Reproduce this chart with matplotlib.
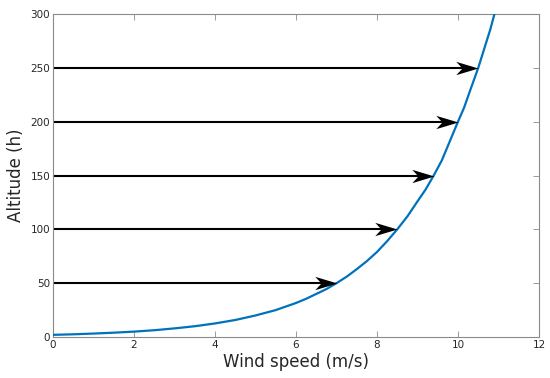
import matplotlib
matplotlib.use("Agg")
import matplotlib.pyplot as plt
from matplotlib.path import Path


# curve
speed = [0, 0.5, 1, 1.5, 2, 2.5, 3, 3.5, 4, 4.5, 5, 5.5, 6, 6.25, 6.5, 6.75,
         7, 7.25, 7.5, 7.75, 8, 8.25, 8.5, 8.75, 9, 9.2, 9.4, 9.6, 9.8,
         10, 10.15, 10.3, 10.5, 10.65, 10.8, 10.9]
altitude = [2.0, 2.5, 3.2, 4.0, 5.0, 6.3, 8.0, 10.0, 12.6, 15.8, 20, 25, 31.6, 35.5, 40, 44.5,
            50, 56, 63, 70.5, 79, 89, 100, 112, 126, 137, 150, 164, 182,
            200, 213, 229, 250, 268, 286, 300]

# arrows: from x = 0 to the curve
arrow_alt = [50, 100, 150, 200, 250]
arrow_speed = [7.0, 8.5, 9.4, 10.0, 10.5]

x_ticks = [0, 2, 4, 6, 8, 10, 12]
y_ticks = [0, 50, 100, 150, 200, 250, 300]


# arrowhead with concave back, tip at origin
head = Path(
    [(0, 0), (-1, 0.3), (-0.72, 0), (-1, -0.3), (0, 0)],
    [Path.MOVETO, Path.LINETO, Path.LINETO, Path.LINETO, Path.CLOSEPOLY]
)

fig = plt.figure(figsize=(5.5, 3.78), dpi=100)
ax = fig.add_axes([53 / 550, 41 / 378, 486 / 550, 323 / 378])

ax.plot(speed, altitude, color="#0072BD", lw=1.6, zorder=3)

for s, a in zip(arrow_speed, arrow_alt):
    ax.plot([0, s - 0.3], [a, a], color="black", lw=1.5, zorder=2)
    ax.plot(s, a, marker=head, markersize=32, color="black",
            markeredgewidth=0, linestyle="none", zorder=4)

ax.set_xlim(0, 12)
ax.set_ylim(0, 300)
ax.set_xticks(x_ticks)
ax.set_yticks(y_ticks)

for sp in ax.spines.values():
    sp.set_color("#8a8a8a")
    sp.set_linewidth(0.8)

ax.tick_params(direction="in", top=True, right=True, length=4,
               width=0.6, color="#8a8a8a", labelsize=7.5,
               labelcolor="#262626", pad=2)

ax.set_xlabel("Wind speed (m/s)", fontsize=12, color="#262626", labelpad=2)
ax.set_ylabel("Altitude (h)", fontsize=12, color="#262626", labelpad=4)

fig.savefig("out.png", dpi=100)
